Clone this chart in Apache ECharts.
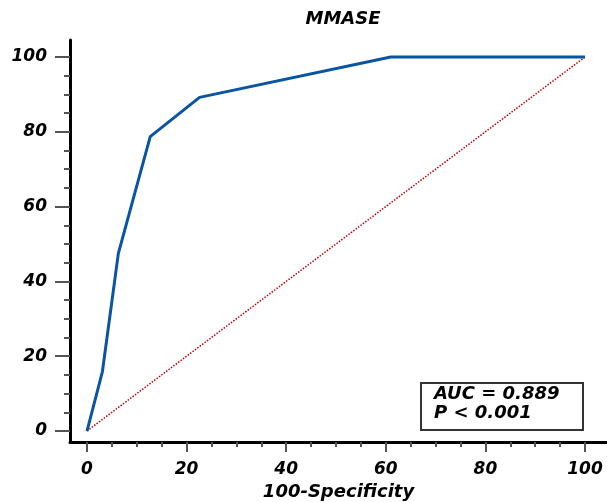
<!DOCTYPE html>
<html>
<head>
<meta charset="utf-8">
<script src="https://cdn.jsdelivr.net/npm/echarts@6/dist/echarts.min.js"></script>
<style>html,body{margin:0;padding:0;background:#fff}#c{width:607px;height:502px}</style>
</head>
<body>
<div id="c"></div>
<script>
const titleText = 'MMASE';
const xName = '100-Specificity';
const rocX = [0, 3.1, 6.3, 12.7, 22.6, 61.0, 100];
const rocY = [0, 15.9, 47.5, 78.7, 89.2, 100, 100];
const refX = [0, 100];
const refY = [0, 100];
const majorTicks = [0, 20, 40, 60, 80, 100];
const minorTicks = [5, 10, 15, 25, 30, 35, 45, 50, 55, 65, 70, 75, 85, 90, 95];
const statsText = ['AUC = 0.889', 'P < 0.001'];

const FONT = 'DejaVu Sans';
const zip = (a, b) => a.map((v, i) => [v, b[i]]);
const xMin = -3.41, xMax = 104.42, yMin = -2.94, yMax = 104.55;
const txt = (size) => ({ fontFamily: FONT, fontSize: size, fontWeight: 'bold', fontStyle: 'italic', color: '#000' });

const chart = echarts.init(document.getElementById('c'));
chart.setOption({
  animation: false,
  title: [
    { text: titleText, left: 338, textAlign: 'center', top: 5, textStyle: txt(18) },
    { text: statsText.join('\n'), left: 421, top: 383,
      borderColor: '#333', borderWidth: 2, padding: [2, 24, 7, 13],
      textStyle: Object.assign(txt(18), { lineHeight: 19 }) }
  ],
  grid: { left: 70, right: 0, top: 40, bottom: 60, containLabel: false, outerBoundsMode: 'none' },
  xAxis: [
    { type: 'value', min: xMin, max: xMax,
      name: xName, nameLocation: 'middle', nameGap: 40,
      nameTextStyle: txt(18),
      axisLine: { show: true, onZero: false, lineStyle: { color: '#000', width: 3 } },
      axisTick: { show: true, customValues: majorTicks, length: 10, lineStyle: { color: '#555', width: 2 } },
      axisLabel: Object.assign({ customValues: majorTicks, margin: 19 }, txt(17)),
      splitLine: { show: false } },
    { type: 'value', min: xMin, max: xMax, position: 'bottom',
      axisLine: { show: false, onZero: false },
      axisTick: { show: true, customValues: minorTicks, length: 5, lineStyle: { color: '#555', width: 2 } },
      axisLabel: { show: false },
      splitLine: { show: false } }
  ],
  yAxis: [
    { type: 'value', min: yMin, max: yMax,
      axisLine: { show: true, onZero: false, lineStyle: { color: '#000', width: 3 } },
      axisTick: { show: true, customValues: majorTicks, length: 15, lineStyle: { color: '#555', width: 2 } },
      axisLabel: Object.assign({ customValues: majorTicks, margin: 23 }, txt(17)),
      splitLine: { show: false } },
    { type: 'value', min: yMin, max: yMax, position: 'left',
      axisLine: { show: false, onZero: false },
      axisTick: { show: true, customValues: minorTicks, length: 6, lineStyle: { color: '#555', width: 2 } },
      axisLabel: { show: false },
      splitLine: { show: false } }
  ],
  series: [
    { type: 'line', data: zip(refX, refY), symbol: 'none', xAxisIndex: 0, yAxisIndex: 0,
      lineStyle: { color: '#c00000', width: 1.5, type: 'dotted' }, z: 2 },
    { type: 'line', data: zip(rocX, rocY), symbol: 'none', xAxisIndex: 0, yAxisIndex: 0,
      lineStyle: { color: '#0a55a3', width: 3 }, z: 3 }
  ]
});
</script>
</body>
</html>
